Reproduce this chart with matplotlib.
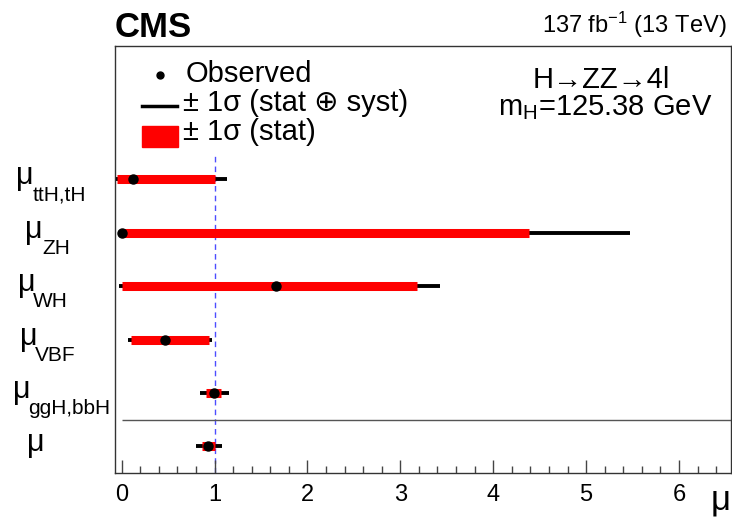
import matplotlib
matplotlib.use("Agg")
import matplotlib.pyplot as plt
from matplotlib.lines import Line2D
from matplotlib.patches import Rectangle
from matplotlib.transforms import blended_transform_factory, offset_copy

plt.rcParams["font.family"] = ["Liberation Sans", "DejaVu Sans"]
plt.rcParams["mathtext.fontset"] = "custom"
plt.rcParams["mathtext.rm"] = "Liberation Sans"
plt.rcParams["mathtext.it"] = "Liberation Sans:italic"

# signal strengths per production mode (top to bottom)
channels = ["ttH,tH", "ZH", "WH", "VBF", "ggH,bbH", ""]
rows = [5, 4, 3, 2, 1, 0]
mu_obs = [0.12, 0.00, 1.66, 0.47, 0.99, 0.93]
stat_lo = [-0.05, 0.00, 0.00, 0.10, 0.91, 0.86]
stat_hi = [1.01, 4.38, 3.18, 0.94, 1.07, 1.01]
tot_lo = [-0.06, 0.00, -0.03, 0.07, 0.84, 0.80]
tot_hi = [1.13, 5.47, 3.43, 0.97, 1.15, 1.08]
xticks = [0, 1, 2, 3, 4, 5, 6]

# label x positions in pixels (mu glyph, subscript)
label_x = [(16, 33), (25, 42), (18, 33), (20, 35), (13, 28), (27, 44)]

W, H = 732, 519
XMIN, XMAX = -0.072, 6.56


def fx(x):
    return x / W


def fy(y):
    return 1 - y / H


fig = plt.figure(figsize=(W / 100, H / 100), dpi=100)
ax = fig.add_axes([fx(115), fy(473), (731 - 115) / W, (473 - 46) / H])

for i, r in enumerate(rows):
    ax.plot([tot_lo[i], tot_hi[i]], [r, r], color="black", lw=2.8,
            solid_capstyle="butt", zorder=2)
    ax.plot([stat_lo[i], stat_hi[i]], [r, r], color="#ff0000", lw=6.5,
            solid_capstyle="butt", zorder=3)
ax.plot(mu_obs, rows, "o", color="black", ms=6.5, zorder=4)

ax.vlines(1, -0.5, 5.5, colors="#4d4dff", linestyles=(0, (4, 3)), lw=1.0, zorder=1)
ax.hlines(0.5, 0, XMAX, colors="#555555", lw=1.0, zorder=1)

ax.set_xlim(XMIN, XMAX)
ax.set_ylim(-0.5, 7.5)
ax.set_xticks(xticks)
ax.set_xticks([t / 5 for t in range(1, 33)], minor=True)
ax.set_yticks([])
ax.tick_params(axis="x", which="major", direction="in", length=9.5, width=1,
               color="#444444", labelsize=17, pad=8)
ax.tick_params(axis="x", which="minor", direction="in", length=5, width=1,
               color="#444444")
for s in ax.spines.values():
    s.set_color("#333333")
    s.set_linewidth(1.0)

# y labels, ROOT style mu with subscript
trans = blended_transform_factory(fig.transFigure, ax.transData)
for i, r in enumerate(rows):
    mx, sx = label_x[i]
    fig.text(fx(mx), r, "\u03bc", fontsize=22, va="baseline", ha="left",
             transform=offset_copy(trans, fig, y=-5, units="dots"))
    if channels[i]:
        fig.text(fx(sx), r, channels[i], fontsize=15, va="baseline", ha="left",
                 transform=offset_copy(trans, fig, y=-21, units="dots"))

fig.text(fx(731), fy(510), "\u03bc", fontsize=25, ha="right", va="baseline")

# header
fig.text(fx(115), fy(37), "CMS", fontsize=25, fontweight="bold",
         ha="left", va="baseline")
fig.text(fx(727), fy(33), r"137 fb$^{\mathregular{-1}}$ (13 TeV)", fontsize=17,
         ha="right", va="baseline")

# legend
fig.add_artist(Line2D([fx(160)], [fy(75)], marker="o", color="black", ms=5,
                      transform=fig.transFigure))
fig.text(fx(186), fy(82), "Observed", fontsize=21, va="baseline")
fig.add_artist(Line2D([fx(142), fx(177)], [fy(106), fy(106)], color="black",
                      lw=2.5, transform=fig.transFigure))
fig.text(fx(183), fy(111), "\u00b1 1\u03c3 (stat \u2295 syst)", fontsize=21,
         va="baseline")
fig.add_artist(Rectangle((fx(142), fy(147)), 36 / W, 21 / H, color="#ff0000",
                         transform=fig.transFigure))
fig.text(fx(183), fy(140), "\u00b1 1\u03c3 (stat)", fontsize=21, va="baseline")

fig.text(fx(601), fy(88), "H\u2192ZZ\u21924l", fontsize=21, ha="center",
         va="baseline")
fig.text(fx(605), fy(115), r"m$_{\mathregular{H}}$=125.38 GeV", fontsize=21,
         ha="center", va="baseline")

fig.savefig("out.png", dpi=100)
